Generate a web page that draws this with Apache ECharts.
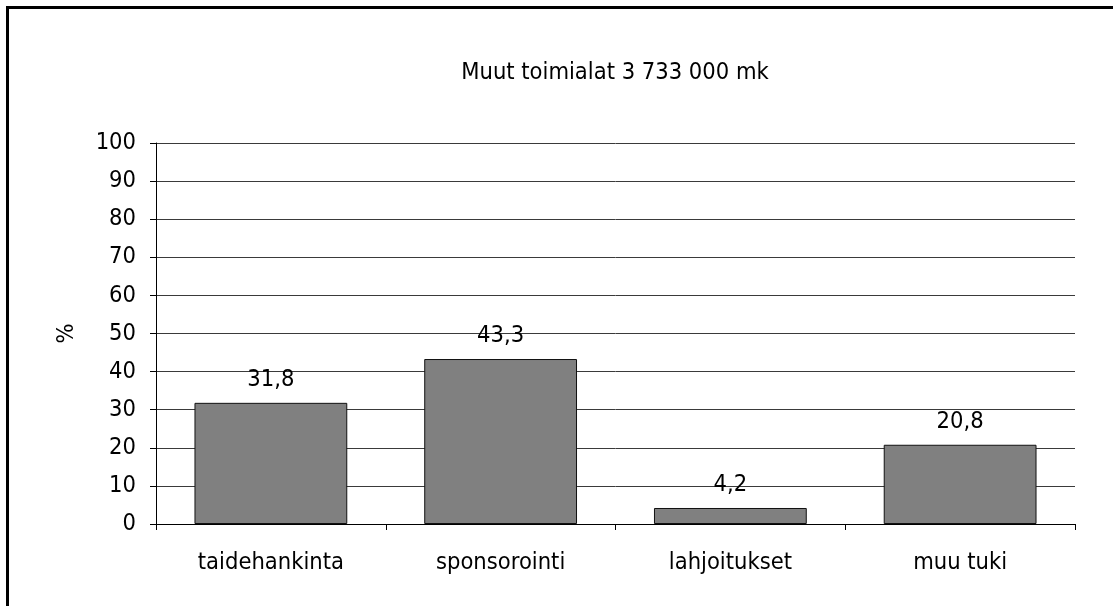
<!DOCTYPE html>
<html>
<head>
<meta charset="utf-8">
<script src="https://cdn.jsdelivr.net/npm/echarts@6/dist/echarts.min.js"></script>
<style>
html,body{margin:0;padding:0;background:#fff;}
#chart{width:1113px;height:606px;}
</style>
</head>
<body>
<div id="chart"></div>
<script>
const titleText = 'Muut toimialat 3 733 000 mk';
const categories = ['taidehankinta', 'sponsorointi', 'lahjoitukset', 'muu tuki'];
const values = [31.8, 43.3, 4.2, 20.8];
const yTicks = { min: 0, max: 100, interval: 10 };
const yName = '%';

const FONT = "'Liberation Sans Narrow', 'Arial Narrow', 'DejaVu Sans Condensed', sans-serif";
const FS = 23.5;
const chart = echarts.init(document.getElementById('chart'), null, { renderer: 'canvas' });
chart.setOption({
  backgroundColor: '#fff',
  animation: false,
  textStyle: { fontFamily: FONT },
  graphic: [
    { type: 'rect', shape: { x: 7.5, y: 7.5, width: 1300, height: 800 }, style: { fill: 'none', stroke: '#000', lineWidth: 3 }, silent: true },
    { type: 'text', x: 615, y: 73, style: { text: titleText, font: FS + 'px ' + FONT, fill: '#000', align: 'center', verticalAlign: 'middle' } }
  ],
  grid: { left: 156, right: 38, top: 143, bottom: 82, containLabel: false },
  xAxis: {
    type: 'category',
    data: categories,
    axisLine: { lineStyle: { color: '#000', width: 1 } },
    axisTick: { show: true, length: 6, lineStyle: { color: '#000' } },
    axisLabel: { color: '#000', fontSize: FS, fontFamily: FONT, margin: 27 },
    splitLine: { show: false }
  },
  yAxis: {
    type: 'value',
    min: yTicks.min, max: yTicks.max, interval: yTicks.interval,
    name: yName,
    nameLocation: 'middle',
    nameRotate: 90,
    nameGap: 77,
    nameTextStyle: { color: '#000', fontSize: FS, fontFamily: FONT },
    axisLine: { show: true, lineStyle: { color: '#000', width: 1 } },
    axisTick: { show: true, length: 6, lineStyle: { color: '#000' } },
    axisLabel: { color: '#000', fontSize: FS, fontFamily: FONT, margin: 20 },
    splitLine: { show: true, lineStyle: { color: '#3a3a3a', width: 1 } }
  },
  series: [{
    type: 'bar',
    data: values,
    barWidth: '66.5%',
    itemStyle: { color: '#808080', borderColor: '#111', borderWidth: 1 },
    label: {
      show: true, position: 'top', distance: 11,
      color: '#000', fontSize: FS, fontFamily: FONT,
      formatter: p => String(p.value).replace('.', ',')
    }
  }]
});
</script>
</body>
</html>
